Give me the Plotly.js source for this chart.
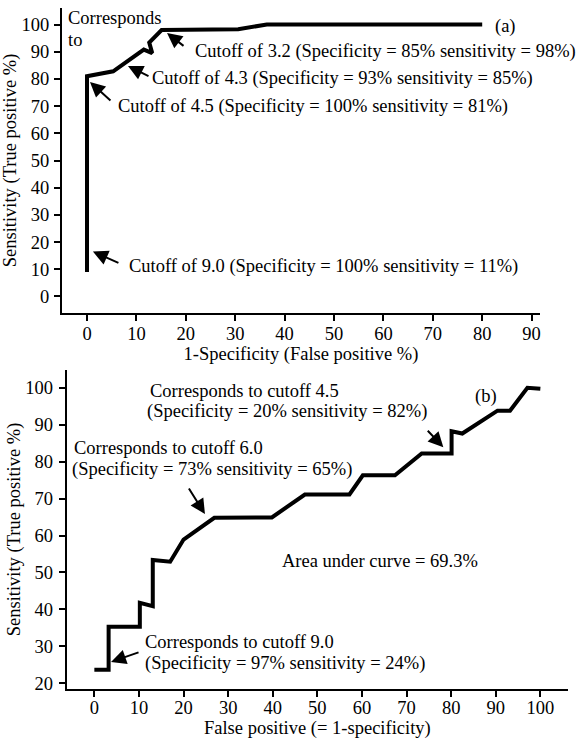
<!DOCTYPE html>
<html>
<head>
<meta charset="utf-8">
<script src="https://cdn.plot.ly/plotly-3.0.1.min.js"></script>
<style>html,body{margin:0;padding:0;background:#fff;}#chart{width:578px;height:741px;}</style>
</head>
<body>
<div id="chart"></div>
<script>
// Panel (a)
const topFalsePositive = [0, 0, 5.3, 11.5, 13.2, 12.6, 15.1, 30.6, 36.4, 80];
const topSensitivity   = [9, 81, 82.8, 90.8, 89.5, 93.4, 98.0, 98.3, 100, 100];
const topXTicks = [0, 10, 20, 30, 40, 50, 60, 70, 80, 90];
const topYTicks = [0, 10, 20, 30, 40, 50, 60, 70, 80, 90, 100];

// Panel (b)
const botFalsePositive = [0, 3.2, 3.2, 10.2, 10.2, 13.1, 13.1, 17, 20, 26.9, 39.8, 47.2, 57.2, 60.2, 67.4, 73.4, 80.1, 80.1, 82.5, 90.4, 93.2, 97.1, 100];
const botSensitivity   = [23.7, 23.7, 35.3, 35.3, 41.8, 40.9, 53.4, 52.9, 58.9, 64.8, 64.9, 71.1, 71.1, 76.3, 76.3, 82.2, 82.2, 88.2, 87.6, 93.8, 93.8, 100, 99.7];
const botXTicks = [0, 10, 20, 30, 40, 50, 60, 70, 80, 90, 100];
const botYTicks = [20, 30, 40, 50, 60, 70, 80, 90, 100];

const FONT = '"Liberation Serif", "Times New Roman", serif';
const fs = 18.5;

const traces = [
  {x: topFalsePositive, y: topSensitivity, xaxis: 'x', yaxis: 'y', mode: 'lines',
   line: {color: '#000', width: 4}, hoverinfo: 'skip'},
  {x: botFalsePositive, y: botSensitivity, xaxis: 'x2', yaxis: 'y2', mode: 'lines',
   line: {color: '#000', width: 4}, hoverinfo: 'skip'}
];

function axisBase(extra) {
  return Object.assign({
    showline: true, linecolor: '#000', linewidth: 2,
    ticks: 'outside', ticklen: 6, tickwidth: 2, tickcolor: '#000',
    showgrid: false, zeroline: false, automargin: false,
    tickfont: {family: FONT, size: fs, color: '#000'},
    fixedrange: true
  }, extra);
}

function txt(xref, yref, x, y, text, xanchor) {
  return {xref: xref, yref: yref, x: x, y: y, text: text, showarrow: false,
          xanchor: xanchor || 'left', yanchor: 'middle', align: 'left',
          font: {family: FONT, size: fs, color: '#000'}};
}
function arr(xref, yref, x, y, ax, ay) {
  return {xref: xref, yref: yref, x: x, y: y, ax: ax, ay: ay, text: '',
          showarrow: true, arrowhead: 2, arrowsize: 1.5, arrowwidth: 2,
          arrowcolor: '#000', standoff: 0, startstandoff: 0};
}

const annotations = [
  // panel a
  txt('x', 'y', -4.3, 102.4, 'Corresponds'),
  txt('x', 'y', -4.3, 94.4, 'to'),
  txt('x', 'y', 21.5, 90, 'Cutoff of 3.2 (Specificity = 85% sensitivity = 98%)'),
  txt('x', 'y', 12.7, 80, 'Cutoff of 4.3 (Specificity = 93% sensitivity = 85%)'),
  txt('x', 'y', 5.9, 69.7, 'Cutoff of 4.5 (Specificity = 100% sensitivity = 81%)'),
  txt('x', 'y', 8.1, 11.0, 'Cutoff of 9.0 (Specificity = 100% sensitivity = 11%)'),
  txt('x', 'y', 92.0, 21.5, 'Area under curve = 99.7%', 'right'),
  txt('x', 'y', 82.2, 99.2, '(a)'),
  arr('x', 'y', 16.2, 96.9, 18, 14),
  arr('x', 'y', 8.3, 84.8, 22, 11),
  arr('x', 'y', 0.6, 78.9, 22, 20),
  arr('x', 'y', 1.2, 16.5, 27, 12),
  // panel b
  txt('x2', 'y2', 12.0, 99.05, 'Corresponds to cutoff 4.5'),
  txt('x2', 'y2', 11.4, 93.7, '(Specificity = 20% sensitivity = 82%)'),
  txt('x2', 'y2', 84.8, 97.7, '(b)'),
  txt('x2', 'y2', -5.0, 83.6, 'Corresponds to cutoff 6.0'),
  txt('x2', 'y2', -5.45, 77.95, '(Specificity = 73% sensitivity = 65%)'),
  txt('x2', 'y2', 41.6, 53.2, 'Area under curve = 69.3%'),
  txt('x2', 'y2', 10.9, 31.2, 'Corresponds to cutoff 9.0'),
  txt('x2', 'y2', 10.9, 25.4, '(Specificity = 97% sensitivity = 24%)'),
  arr('x2', 'y2', 78.25, 83.9, -17, -18),
  arr('x2', 'y2', 24.8, 65.8, -17, -27),
  arr('x2', 'y2', 3.74, 25.8, 29, -10)
];

const layout = {
  width: 578, height: 741,
  margin: {l: 0, r: 0, t: 0, b: 0},
  paper_bgcolor: '#fff', plot_bgcolor: '#fff',
  showlegend: false,
  font: {family: FONT, size: fs, color: '#000'},
  xaxis: axisBase({domain: [62/578, 540/578], range: [-5.06, 91.7], anchor: 'y',
    tickvals: topXTicks, ticklabelstandoff: -3,
    title: {text: '1-Specificity (False positive %)', font: {family: FONT, size: fs, color: '#000'}, standoff: 0}}),
  yaxis: axisBase({domain: [(741-313)/741, (741-8)/741], range: [-6.1, 106.1], anchor: 'x',
    tickvals: topYTicks, ticklabelstandoff: 1,
    title: {text: 'Sensitivity (True positive %)', font: {family: FONT, size: fs, color: '#000'}, standoff: 0}}),
  xaxis2: axisBase({domain: [66.7/578, 568/578], range: [-6.2, 106.2], anchor: 'y2',
    tickvals: botXTicks, ticklabelstandoff: -5,
    title: {text: 'False positive (= 1-specificity)', font: {family: FONT, size: fs, color: '#000'}, standoff: 0}}),
  yaxis2: axisBase({domain: [(741-689)/741, (741-370)/741], range: [18.46, 104.8], anchor: 'x2',
    tickvals: botYTicks, ticklabelstandoff: 2,
    title: {text: 'Sensitivity (True positive %)', font: {family: FONT, size: fs, color: '#000'}, standoff: 0}}),
  annotations: annotations
};

Plotly.newPlot('chart', traces, layout, {staticPlot: true, displayModeBar: false});
</script>
</body>
</html>
